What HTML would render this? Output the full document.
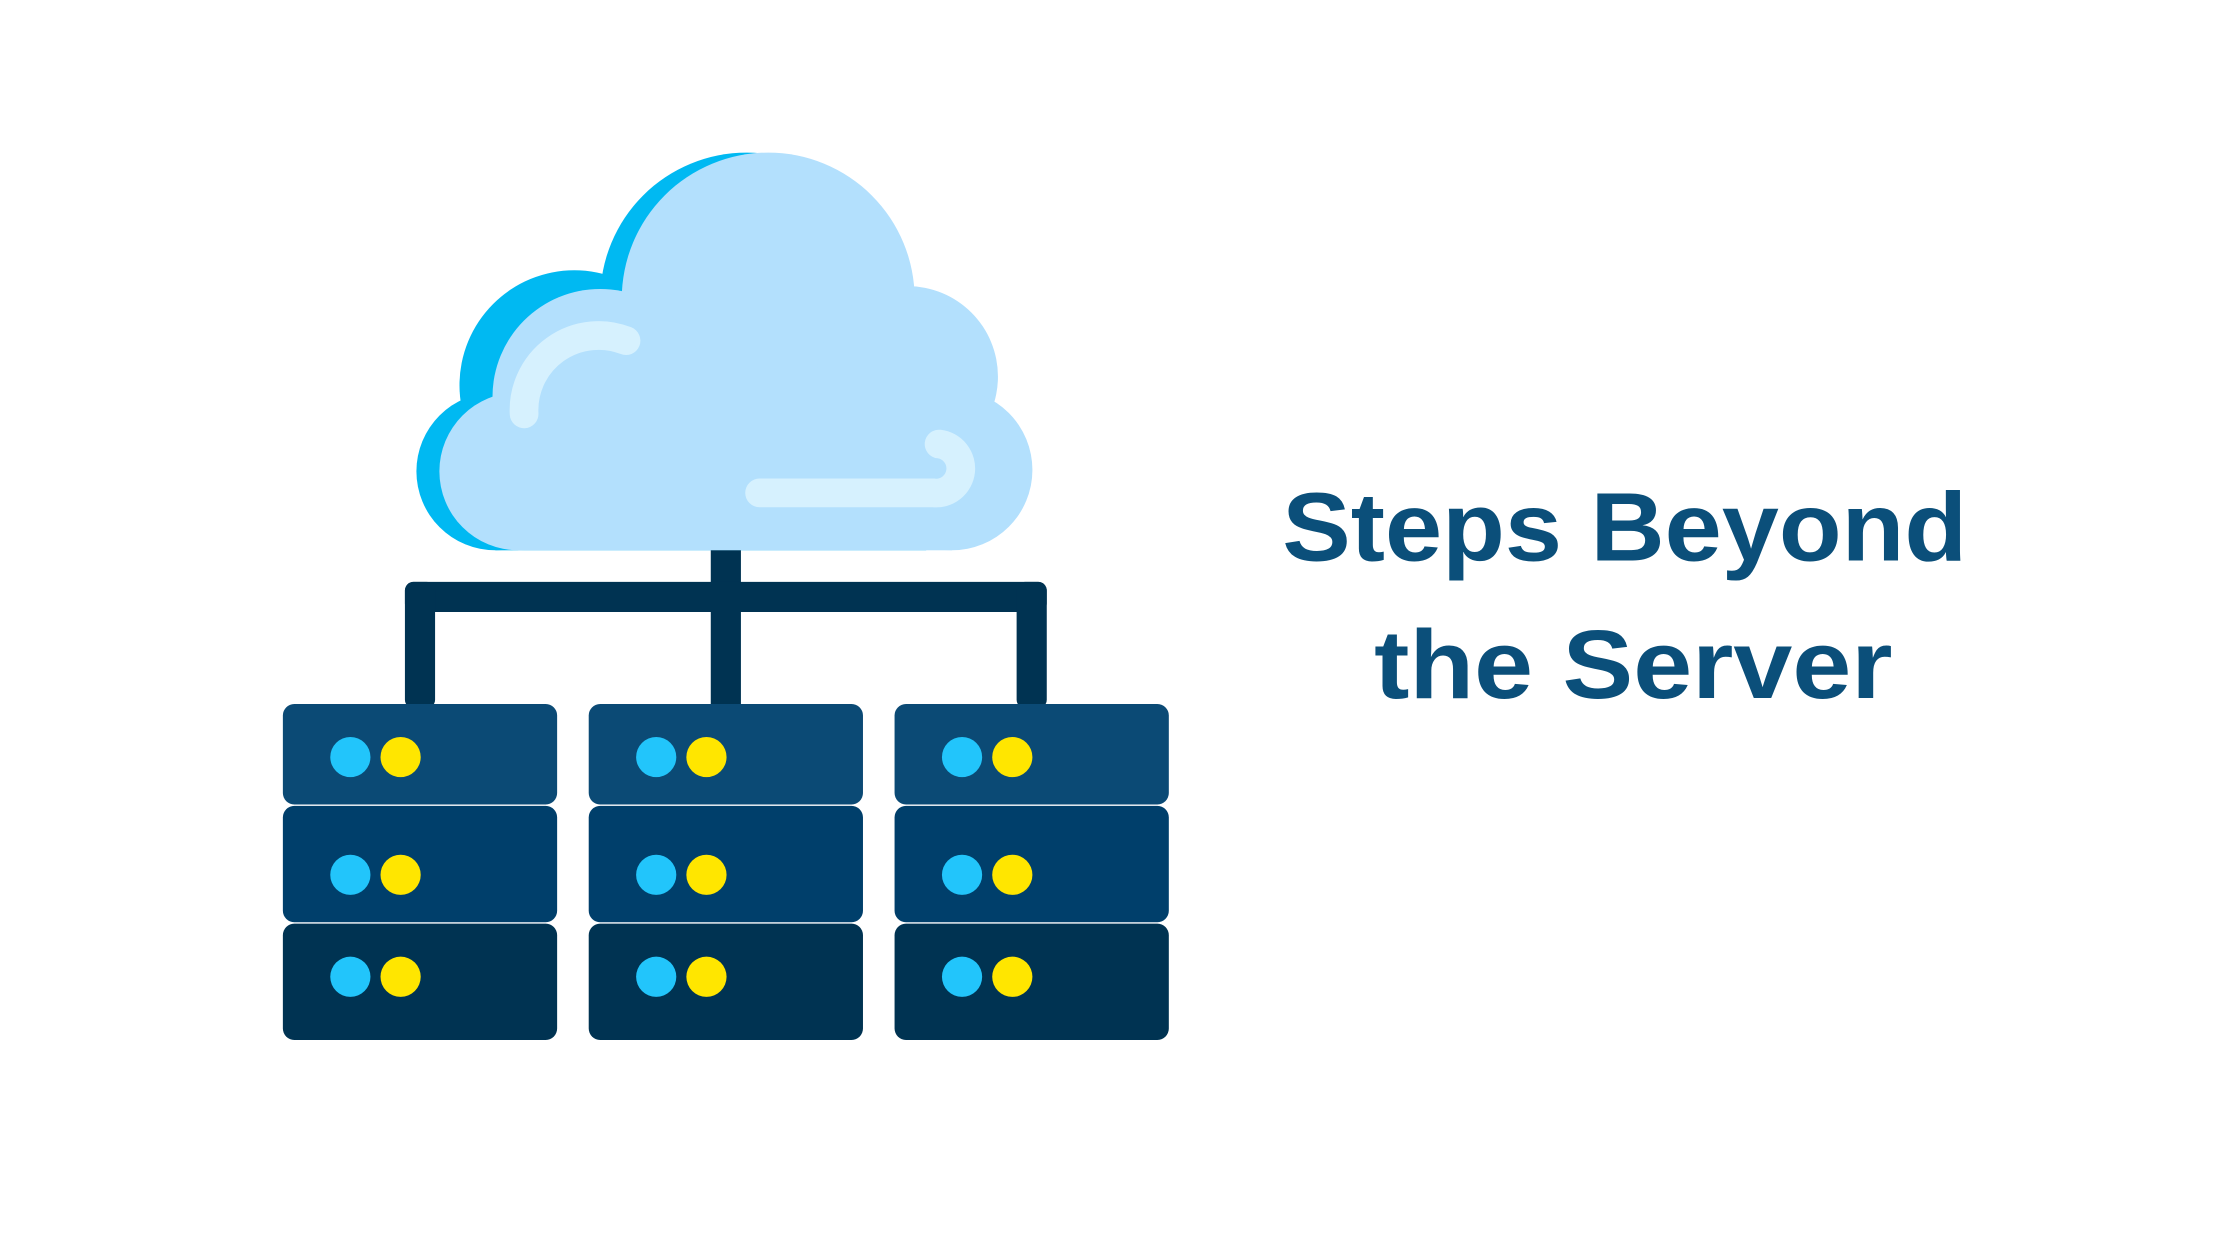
<!DOCTYPE html>
<html><head><meta charset="utf-8"><style>
html,body{margin:0;padding:0;background:#fff;width:2240px;height:1260px;overflow:hidden}
</style></head><body>
<svg width="2240" height="1260" viewBox="0 0 1560 877" xmlns="http://www.w3.org/2000/svg">
<g fill="#00b9f2">
<circle cx="520" cy="208" r="102"/>
<circle cx="400" cy="268" r="80"/>
<circle cx="345" cy="328" r="55"/>
<rect x="345" y="300" width="300" height="83"/>
</g>
<g fill="#b3e0fd">
<circle cx="535" cy="208" r="102"/>
<circle cx="418" cy="276" r="75"/>
<circle cx="361" cy="328" r="55"/>
<circle cx="632" cy="262" r="63"/>
<circle cx="663" cy="327" r="56"/>
<rect x="361" y="260" width="302" height="123"/>
</g>
<g fill="none" stroke="#d6f1fe" stroke-width="20" stroke-linecap="round">
<path d="M365 288 A52 52 0 0 1 436 237"/>
<path d="M529 343 H650 A17 17 0 0 0 654 309"/>
</g>
<g fill="#003352">
<rect x="495" y="383" width="21" height="110"/>
<rect x="282" y="405" width="447" height="21" rx="6"/>
<rect x="282" y="405" width="21" height="88" rx="6"/>
<rect x="708" y="405" width="21" height="88" rx="6"/>
</g>
<g id="col">
<rect x="197" y="490" width="191" height="70" rx="8" fill="#0b4a75"/>
<rect x="197" y="561" width="191" height="81" rx="8" fill="#003f6b"/>
<rect x="197" y="643" width="191" height="81" rx="8" fill="#003352"/>
<circle cx="244" cy="527" r="14" fill="#22c5fb"/><circle cx="279" cy="527" r="14" fill="#ffe600"/>
<circle cx="244" cy="609" r="14" fill="#22c5fb"/><circle cx="279" cy="609" r="14" fill="#ffe600"/>
<circle cx="244" cy="680" r="14" fill="#22c5fb"/><circle cx="279" cy="680" r="14" fill="#ffe600"/>
</g>
<use href="#col" x="213"/>
<use href="#col" x="426"/>
<g fill="#0b4f7a" font-family="Liberation Sans, sans-serif" font-weight="bold">
<text x="893" y="390" font-size="68" textLength="477" lengthAdjust="spacingAndGlyphs">Steps Beyond</text>
<text x="957" y="486" font-size="68" textLength="361" lengthAdjust="spacingAndGlyphs">the Server</text>
</g>
</svg>
</body></html>
